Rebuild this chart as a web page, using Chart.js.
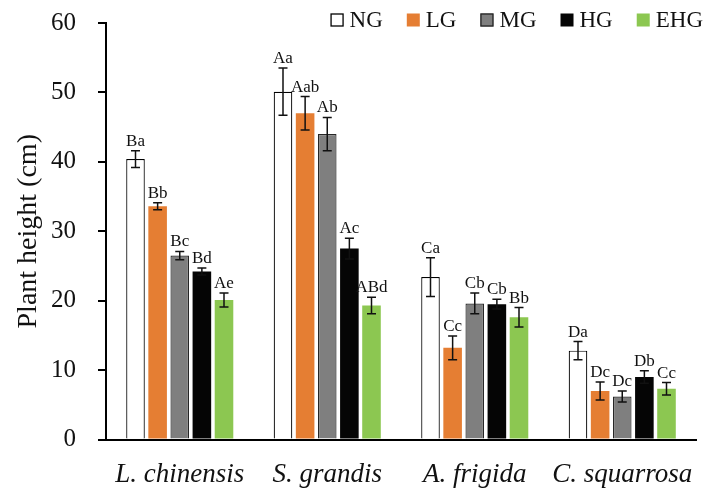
<!DOCTYPE html>
<html>
<head>
<meta charset="utf-8">
<script src="https://cdn.jsdelivr.net/npm/chart.js@4.4.1/dist/chart.umd.min.js"></script>
<style>
  html, body { margin: 0; padding: 0; background: #fff; }
  #wrap { width: 708px; height: 488px; position: relative; }
</style>
</head>
<body>
<div id="wrap"><canvas id="c" width="708" height="488"></canvas></div>
<script>
// ---- data ----
const categories = ["L. chinensis", "S. grandis", "A. frigida", "C. squarrosa"];
const seriesNames = ["NG", "LG", "MG", "HG", "EHG"];
const ngValues  = [40.4, 50.1, 23.4, 12.8];
const lgValues  = [33.6, 47.0, 13.2, 7.0];
const mgValues  = [26.5, 44.0, 19.6, 6.2];
const hgValues  = [24.2, 27.5, 19.5, 9.0];
const ehgValues = [20.1, 19.3, 17.6, 7.3];
const ngErr  = [1.2, 3.4, 2.8, 1.3];
const lgErr  = [0.5, 2.4, 1.7, 1.3];
const mgErr  = [0.6, 2.4, 1.5, 0.8];
const hgErr  = [0.5, 1.5, 0.7, 0.9];
const ehgErr = [1.0, 1.2, 1.4, 0.9];
const ngLetters  = ["Ba", "Aa", "Ca", "Da"];
const lgLetters  = ["Bb", "Aab", "Cc", "Dc"];
const mgLetters  = ["Bc", "Ab", "Cb", "Dc"];
const hgLetters  = ["Bd", "Ac", "Cb", "Db"];
const ehgLetters = ["Ae", "ABd", "Bb", "Cc"];
const yTicks = [0, 10, 20, 30, 40, 50, 60];
const yTitle = "Plant height (cm)";

const SERIF = "'Liberation Serif', 'Times New Roman', serif";
const styles = [
  { bg: "#ffffff", border: "#000000", bw: 1.2 },
  { bg: "#E57E33", border: "#E57E33", bw: 0 },
  { bg: "#7F7F7F", border: "#262626", bw: 1.2 },
  { bg: "#050505", border: "#050505", bw: 0 },
  { bg: "#8CC751", border: "#8CC751", bw: 0 }
];
const values = [ngValues, lgValues, mgValues, hgValues, ehgValues];
const errs = [ngErr, lgErr, mgErr, hgErr, ehgErr];
const letters = [ngLetters, lgLetters, mgLetters, hgLetters, ehgLetters];

const datasets = seriesNames.map((n, i) => ({
  label: n,
  data: values[i],
  backgroundColor: styles[i].bg,
  borderColor: styles[i].border,
  borderWidth: styles[i].bw,
  categoryPercentage: 0.75,
  barPercentage: 0.84
}));

const errorBarPlugin = {
  id: "errorBars",
  afterDatasetsDraw(chart) {
    const ctx = chart.ctx;
    const ys = chart.scales.y;
    ctx.save();
    chart.data.datasets.forEach((ds, i) => {
      const meta = chart.getDatasetMeta(i);
      meta.data.forEach((el, j) => {
        const v = ds.data[j], e = errs[i][j];
        const x = el.x;
        const yT = ys.getPixelForValue(v + e);
        const yB = ys.getPixelForValue(v - e);
        ctx.strokeStyle = "#111";
        ctx.lineWidth = 1.5;
        ctx.beginPath();
        ctx.moveTo(x, yT); ctx.lineTo(x, yB);
        ctx.moveTo(x - 4.5, yT); ctx.lineTo(x + 4.5, yT);
        ctx.moveTo(x - 4.5, yB); ctx.lineTo(x + 4.5, yB);
        ctx.stroke();
        ctx.fillStyle = "#111";
        ctx.font = "17px " + SERIF;
        ctx.textAlign = "center";
        ctx.textBaseline = "bottom";
        ctx.fillText(letters[i][j], x, yT - 1);
      });
    });
    ctx.restore();
  }
};

const legendPlugin = {
  id: "customLegend",
  afterDraw(chart) {
    const ctx = chart.ctx;
    ctx.save();
    ctx.font = "23px " + SERIF;
    const box = 13, gapText = 6, gapItem = 24, rightEnd = 703, yMid = 20;
    const widths = seriesNames.map(n => box + gapText + ctx.measureText(n).width);
    let total = widths.reduce((a, b) => a + b, 0) + gapItem * (seriesNames.length - 1);
    let x = rightEnd - total;
    seriesNames.forEach((n, i) => {
      const s = styles[i];
      ctx.fillStyle = s.bg;
      ctx.fillRect(x, yMid - box / 2, box, box);
      if (s.bw > 0) {
        ctx.strokeStyle = s.border;
        ctx.lineWidth = 1.3;
        ctx.strokeRect(x + 0.5, yMid - box / 2 + 0.5, box - 1, box - 1);
      }
      ctx.fillStyle = "#111";
      ctx.textAlign = "left";
      ctx.textBaseline = "middle";
      ctx.fillText(n, x + box + gapText, yMid + 1);
      x += widths[i] + gapItem;
    });
    ctx.restore();
  }
};

function zeroPad(scale) {
  scale.paddingTop = 0; scale.paddingBottom = 0;
  scale.paddingLeft = 0; scale.paddingRight = 0;
}

new Chart(document.getElementById("c"), {
  type: "bar",
  data: { labels: categories, datasets },
  options: {
    responsive: false,
    animation: false,
    devicePixelRatio: 1,
    layout: { padding: { left: 0, right: 12, top: 23, bottom: 0 } },
    plugins: { legend: { display: false }, tooltip: { enabled: false } },
    scales: {
      x: {
        grid: { display: false, drawTicks: false },
        border: { display: true, color: "#000", width: 2 },
        ticks: { color: "#111", font: { family: SERIF, size: 27, style: "italic" }, padding: 19 },
        afterFit(scale) { scale.height = 48.5; zeroPad(scale); }
      },
      y: {
        min: 0, max: 60,
        afterBuildTicks(scale) { scale.ticks = yTicks.map(v => ({ value: v })); },
        grid: { drawOnChartArea: false, drawTicks: true, tickLength: 8, color: "#000", lineWidth: 2 },
        border: { display: true, color: "#000", width: 2 },
        ticks: { color: "#111", font: { family: SERIF, size: 25 }, padding: 22 },
        title: { display: true, text: yTitle, color: "#111", font: { family: SERIF, size: 28 }, padding: { top: 12, bottom: 0 } },
        afterFit(scale) { scale.width = 106; zeroPad(scale); }
      }
    }
  },
  plugins: [errorBarPlugin, legendPlugin]
});
</script>
</body>
</html>
